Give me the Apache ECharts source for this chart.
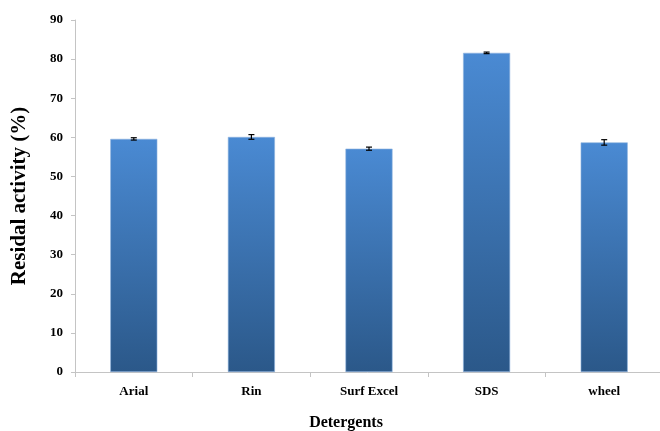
<!DOCTYPE html>
<html><head><meta charset="utf-8">
<script src="https://cdn.jsdelivr.net/npm/echarts@6/dist/echarts.min.js"></script>
<style>html,body{margin:0;padding:0;background:#fff}#c{width:660px;height:431px}</style>
</head><body><div id="c"></div>
<script>
var categories = ['Arial', 'Rin', 'Surf Excel', 'SDS', 'wheel'];
var values = [59.6, 60.1, 57.1, 81.6, 58.7];
var errors = [0.3, 0.6, 0.4, 0.2, 0.7];
var yTicks = [0, 10, 20, 30, 40, 50, 60, 70, 80, 90];

var chart = echarts.init(document.getElementById('c'));
var font = '"Liberation Serif", "Times New Roman", serif';
chart.setOption({
  animation: false,
  grid: {left: 75, right: -3, top: 20, bottom: 59, containLabel: false, outerBoundsMode: 'none'},
  xAxis: {
    type: 'category', data: categories,
    name: 'Detergents', nameLocation: 'middle', nameGap: 43,
    nameTextStyle: {fontFamily: font, fontWeight: 'bold', fontSize: 16, color: '#000', padding: [0, 46, 0, 0]},
    axisLine: {lineStyle: {color: '#c4c4c4'}},
    axisTick: {show: true, alignWithLabel: false, length: 5, lineStyle: {color: '#c4c4c4'}},
    axisLabel: {fontFamily: font, fontWeight: 'bold', fontSize: 13, color: '#000', margin: 13}
  },
  yAxis: {
    type: 'value', min: 0, max: 90, interval: 10,
    name: 'Residal activity (%)', nameLocation: 'middle', nameGap: 45, nameRotate: 90,
    nameTextStyle: {fontFamily: font, fontWeight: 'bold', fontSize: 21, color: '#000'},
    axisLine: {show: true, lineStyle: {color: '#c4c4c4'}},
    axisTick: {show: true, length: 4, lineStyle: {color: '#c4c4c4'}},
    splitLine: {show: false},
    axisLabel: {fontFamily: font, fontWeight: 'bold', fontSize: 13, color: '#000', margin: 12,
      formatter: function(v){ return yTicks.indexOf(v) >= 0 ? String(v) : ''; }}
  },
  series: [{
    type: 'bar', data: values, barWidth: '40%',
    itemStyle: {
      borderColor: '#8fb3df', borderWidth: 0.6,
      color: new echarts.graphic.LinearGradient(0, 0, 0, 1, [
        {offset: 0, color: '#4a8ad3'},
        {offset: 1, color: '#2b5889'}
      ])
    }
  }, {
    type: 'custom',
    data: values.map(function(v, i){ return [i, v - errors[i], v + errors[i]]; }),
    renderItem: function(params, api){
      var lo = api.coord([api.value(0), api.value(1)]);
      var hi = api.coord([api.value(0), api.value(2)]);
      var w = 3;
      var st = {stroke: '#000', lineWidth: 1.2};
      return {type: 'group', children: [
        {type: 'line', shape: {x1: hi[0], y1: hi[1], x2: lo[0], y2: lo[1]}, style: st},
        {type: 'line', shape: {x1: hi[0]-w, y1: hi[1], x2: hi[0]+w, y2: hi[1]}, style: st},
        {type: 'line', shape: {x1: lo[0]-w, y1: lo[1], x2: lo[0]+w, y2: lo[1]}, style: st}
      ]};
    },
    z: 10
  }]
});
</script></body></html>
